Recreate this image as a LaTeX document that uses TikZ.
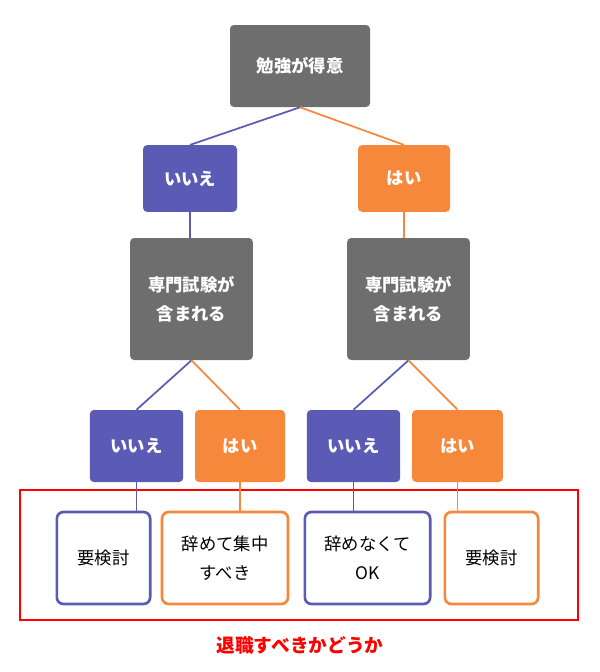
\documentclass[tikz,border=0pt]{standalone}
\usepackage{fontspec}
\setmainfont{Noto Sans CJK JP}
\begin{document}
\begin{tikzpicture}[x=0.75pt,y=-0.75pt,
  box/.style={rounded corners=3pt,font=\bfseries\fontsize{13}{22}\selectfont,align=center,text=white,inner sep=0pt},
  bbox/.style={box,fill=blueC},
  obox/.style={box,fill=orangeC},
  wb/.style={rounded corners=5pt,draw=blueC,line width=2pt,fill=white,font=\fontsize{13}{22}\selectfont,align=center,inner sep=0pt},
  wo/.style={wb,draw=orangeC},
  bl/.style={draw=blueC,line width=1.3pt},
  ol/.style={draw=orangeC,line width=1.3pt}]
\definecolor{blueC}{HTML}{5B5BB5}
\definecolor{orangeC}{HTML}{F5883A}
\definecolor{grayC}{HTML}{6E6E6E}
\useasboundingbox (0,0) rectangle (600,672);
\tikzset{gbox/.style={box,fill=grayC}}
\node[gbox,minimum width=105pt,minimum height=61.5pt] (top) at (300,66) {勉強が得意};
\node[bbox,minimum width=70.5pt,minimum height=50pt] (n1) at (190,178.5) {いいえ};
\node[obox,minimum width=69pt,minimum height=50pt] (y1) at (404,178.5) {はい};
\node[gbox,minimum width=92pt,minimum height=91.5pt] (g1) at (191.5,299) {専門試験が\\含まれる};
\node[gbox,minimum width=92pt,minimum height=91.5pt] (g2) at (408.5,299) {専門試験が\\含まれる};
\node[bbox,minimum width=70pt,minimum height=54pt] (a1) at (136.5,446) {いいえ};
\node[obox,minimum width=67.5pt,minimum height=54pt] (a2) at (240,446) {はい};
\node[bbox,minimum width=70pt,minimum height=54pt] (a3) at (353.5,446) {いいえ};
\node[obox,minimum width=68pt,minimum height=54pt] (a4) at (457.5,446) {はい};
\draw[red,line width=2pt] (20,490) rectangle (578,620);
\node[wb,minimum width=70pt,minimum height=69pt] (b1) at (103.5,558) {要検討};
\node[wo,minimum width=94.5pt,minimum height=69pt] (b2) at (225,558) {辞めて集中\\すべき};
\node[wb,minimum width=94pt,minimum height=69pt] (b3) at (367.5,558) {辞めなくて\\OK};
\node[wo,minimum width=70pt,minimum height=69pt] (b4) at (491.5,558) {要検討};
\node[text=red,font=\bfseries\fontsize{14}{16}\selectfont] (lab) at (300,645) {退職すべきかどうか};
\draw[bl] (top.south) -- (n1.north);
\draw[ol] (top.south) -- (y1.north);
\draw[bl] (n1.south) -- (n1.south |- g1.north);
\draw[ol] (y1.south) -- (y1.south |- g2.north);
\draw[bl] (g1.south) -- (a1.north);
\draw[ol] (g1.south) -- (a2.north);
\draw[bl] (g2.south) -- (a3.north);
\draw[ol] (g2.south) -- (a4.north);
\draw[bl] (a1.south) -- (a1.south |- b1.north);
\draw[ol] (a2.south) -- (a2.south |- b2.north);
\draw[bl] (a3.south) -- (a3.south |- b3.north);
\draw[ol] (a4.south) -- (a4.south |- b4.north);
\end{tikzpicture}
\end{document}
